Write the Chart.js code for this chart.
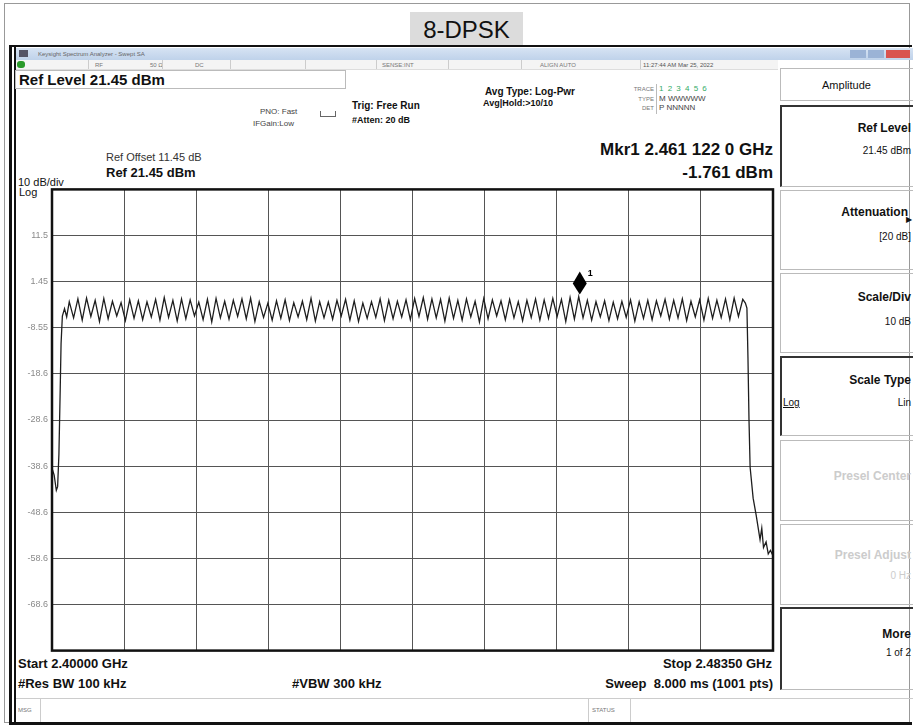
<!DOCTYPE html>
<html>
<head>
<meta charset="utf-8">
<script src="https://cdn.jsdelivr.net/npm/chart.js@4"></script>
<style>
  body { margin: 0; background: #fff; font-family: Arial, "Liberation Sans", sans-serif; }
  #page { position: relative; width: 913px; height: 726px; overflow: hidden; background: #fff; }
  .abs { position: absolute; }
  .t { position: absolute; white-space: nowrap; line-height: 1; color: #111; }
  .b { font-weight: bold; }
  .r { text-align: right; }
  .small { font-size: 6px; color: #777; }
  .key { position: absolute; left: 780px; width: 133px; box-sizing: border-box; border-top: 1px solid #bbb; border-bottom: 1px solid #bbb; border-left: 1px solid #bbb; }
  .key.sel { border-top: 2px solid #333; border-left: 2px solid #333; }
  #chartBox { position: absolute; left: 12px; top: 180px; }
</style>
</head>
<body>
<div id="page">
  <!-- outer frame and title -->
  <div class="abs" style="left:4px;top:3px;width:904px;height:718px;border:1px solid #999;"></div>
  <div class="abs" style="left:410px;top:12px;width:113px;height:34px;background:#dcdcdc;"></div>
  <div class="t" style="left:410px;top:18px;width:113px;text-align:center;font-size:24px;">8-DPSK</div>
  <div class="abs" style="left:9px;top:45px;width:903px;height:2px;background:#111;"></div>
  <div class="abs" style="left:9px;top:45px;width:3px;height:680px;background:#111;"></div>
  <div class="abs" style="left:14px;top:47px;width:2px;height:678px;background:#111;"></div>
  <div class="abs" style="left:9px;top:722px;width:903px;height:3px;background:#111;"></div>

  <!-- window title bar -->
  <div class="abs" style="left:16px;top:48px;width:897px;height:12px;background:linear-gradient(#d6e3f3,#bfd2ea);"></div>
  <div class="abs" style="left:19px;top:50px;width:9px;height:7px;background:#556;"></div>
  <div class="t small" style="left:38px;top:51px;color:#666;">Keysight Spectrum Analyzer - Swept SA</div>
  <div class="abs" style="left:850px;top:50px;width:16px;height:8px;background:#9bb3d6;"></div>
  <div class="abs" style="left:868px;top:50px;width:16px;height:8px;background:#9bb3d6;"></div>
  <div class="abs" style="left:886px;top:50px;width:24px;height:8px;background:#d9534f;"></div>

  <!-- status row -->
  <div class="abs" style="left:16px;top:60px;width:762px;height:9px;background:#f4f4f4;border-bottom:1px solid #ddd;"></div>
  <div class="abs" style="left:17px;top:61px;width:8px;height:7px;background:#2a9a2a;border-radius:3px;"></div>
  <div class="t small" style="left:95px;top:62px;">RF</div>
  <div class="t small" style="left:150px;top:62px;">50 Ω</div>
  <div class="t small" style="left:195px;top:62px;">DC</div>
  <div class="t small" style="left:382px;top:62px;">SENSE:INT</div>
  <div class="t small" style="left:540px;top:62px;">ALIGN AUTO</div>
  <div class="t small" style="left:643px;top:62px;color:#555;">11:27:44 AM Mar 25, 2022</div>
  <div class="abs" style="left:88px;top:60px;width:1px;height:9px;background:#ccc;"></div>
  <div class="abs" style="left:162px;top:60px;width:1px;height:9px;background:#ccc;"></div>
  <div class="abs" style="left:230px;top:60px;width:1px;height:9px;background:#ccc;"></div>
  <div class="abs" style="left:305px;top:60px;width:1px;height:9px;background:#ccc;"></div>
  <div class="abs" style="left:376px;top:60px;width:1px;height:9px;background:#ccc;"></div>
  <div class="abs" style="left:448px;top:60px;width:1px;height:9px;background:#ccc;"></div>
  <div class="abs" style="left:521px;top:60px;width:1px;height:9px;background:#ccc;"></div>
  <div class="abs" style="left:640px;top:60px;width:1px;height:9px;background:#ccc;"></div>

  <!-- header texts -->
  <div class="abs" style="left:15px;top:70px;width:329px;height:17px;border:1px solid #bbb;"></div>
  <div class="t b" style="left:19px;top:72px;font-size:15px;">Ref Level 21.45 dBm</div>
  <div class="t" style="left:260px;top:108px;font-size:8px;color:#444;">PNO: Fast</div>
  <div class="t" style="left:253px;top:120px;font-size:8px;color:#444;">IFGain:Low</div>
  <div class="abs" style="left:320px;top:111px;width:14px;height:5px;border:1px solid #666;border-top:none;"></div>
  <div class="t b" style="left:352px;top:101px;font-size:10px;">Trig: Free Run</div>
  <div class="t b" style="left:352px;top:116px;font-size:9px;">#Atten: 20 dB</div>
  <div class="t b" style="left:485px;top:87px;font-size:10px;">Avg Type: Log-Pwr</div>
  <div class="t b" style="left:483px;top:99px;font-size:9px;">Avg|Hold:&gt;10/10</div>
  <div class="t small r" style="left:600px;top:86px;width:54px;">TRACE</div>
  <div class="t small r" style="left:600px;top:96px;width:54px;">TYPE</div>
  <div class="t small r" style="left:600px;top:105px;width:54px;">DET</div>
  <div class="abs" style="left:656px;top:84px;width:1px;height:30px;background:#bbb;"></div>
  <div class="t" style="left:659px;top:85px;font-size:8px;color:#3a6;letter-spacing:1px;">1 2 3 4 5 6</div>
  <div class="t" style="left:659px;top:95px;font-size:8px;color:#444;">M WWWWW</div>
  <div class="t" style="left:659px;top:104px;font-size:8px;color:#444;">P NNNNN</div>

  <div class="t b r" style="left:400px;top:141px;width:373px;font-size:17px;">Mkr1 2.461 122 0 GHz</div>
  <div class="t b r" style="left:400px;top:164px;width:373px;font-size:17px;">-1.761 dBm</div>
  <div class="t" style="left:106px;top:152px;font-size:11px;color:#333;">Ref Offset 11.45 dB</div>
  <div class="t b" style="left:106px;top:166px;font-size:13px;">Ref 21.45 dBm</div>
  <div class="t" style="left:18px;top:177px;font-size:11px;">10 dB/div</div>
  <div class="t" style="left:19px;top:187px;font-size:11px;">Log</div>

  <!-- footer texts -->
  <div class="t b" style="left:18px;top:657px;font-size:13px;">Start 2.40000 GHz</div>
  <div class="t b" style="left:18px;top:677px;font-size:13px;">#Res BW 100 kHz</div>
  <div class="t b" style="left:292px;top:677px;font-size:13px;">#VBW 300 kHz</div>
  <div class="t b r" style="left:450px;top:657px;width:322px;font-size:13px;">Stop 2.48350 GHz</div>
  <div class="t b r" style="left:450px;top:677px;width:323px;font-size:13px;">Sweep&nbsp; 8.000 ms (1001 pts)</div>
  <div class="abs" style="left:16px;top:698px;width:897px;height:1px;background:#ccc;"></div>
  <div class="abs" style="left:40px;top:698px;width:1px;height:24px;background:#ccc;"></div>
  <div class="abs" style="left:588px;top:698px;width:1px;height:24px;background:#ccc;"></div>
  <div class="abs" style="left:630px;top:698px;width:1px;height:24px;background:#ccc;"></div>
  <div class="t small" style="left:18px;top:707px;">MSG</div>
  <div class="t small" style="left:592px;top:707px;">STATUS</div>

  <!-- softkey panel -->
  <div class="key" style="top:68px;height:33px;"></div>
  <div class="t" style="left:780px;top:80px;width:133px;text-align:center;font-size:11px;">Amplitude</div>
  <div class="key sel" style="top:105px;height:82px;"></div>
  <div class="t b r" style="left:780px;top:122px;width:131px;font-size:12px;">Ref Level</div>
  <div class="t r" style="left:780px;top:146px;width:131px;font-size:10px;">21.45 dBm</div>
  <div class="key" style="top:190px;height:80px;"></div>
  <div class="t b r" style="left:780px;top:206px;width:128px;font-size:12px;">Attenuation</div>
  <div class="t" style="left:906px;top:216px;font-size:8px;">&#9654;</div>
  <div class="t r" style="left:780px;top:232px;width:131px;font-size:10px;">[20 dB]</div>
  <div class="key" style="top:273px;height:80px;"></div>
  <div class="t b r" style="left:780px;top:291px;width:131px;font-size:12px;">Scale/Div</div>
  <div class="t r" style="left:780px;top:317px;width:131px;font-size:10px;">10 dB</div>
  <div class="key sel" style="top:356px;height:80px;"></div>
  <div class="t b r" style="left:780px;top:374px;width:131px;font-size:12px;">Scale Type</div>
  <div class="t" style="left:783px;top:398px;font-size:10px;text-decoration:underline;">Log</div>
  <div class="t r" style="left:780px;top:398px;width:131px;font-size:10px;">Lin</div>
  <div class="key" style="top:440px;height:81px;"></div>
  <div class="t b r" style="left:780px;top:470px;width:131px;font-size:12px;color:#ccc;">Presel Center</div>
  <div class="key" style="top:524px;height:81px;"></div>
  <div class="t b r" style="left:780px;top:549px;width:131px;font-size:12px;color:#ccc;">Presel Adjust</div>
  <div class="t r" style="left:780px;top:571px;width:131px;font-size:10px;color:#ccc;">0 Hz</div>
  <div class="key sel" style="top:607px;height:83px;"></div>
  <div class="t b r" style="left:780px;top:628px;width:131px;font-size:12px;">More</div>
  <div class="t r" style="left:780px;top:648px;width:131px;font-size:10px;">1 of 2</div>

  <div id="chartBox"><canvas id="trace" width="765" height="480"></canvas></div>
</div>

<script>
// frequency axis (MHz) and amplitude grid (dBm)
const spanMHz = [2400, 2483.5];
const xGridMHz = [2400, 2408.35, 2416.7, 2425.05, 2433.4, 2441.75, 2450.1, 2458.45, 2466.8, 2475.15, 2483.5];
const yGrid = [-78.55, -68.55, -58.55, -48.55, -38.55, -28.55, -18.55, -8.55, 1.45, 11.45, 21.45];
const yTickLabels = ['', '-68.6', '-58.6', '-48.6', '-38.6', '-28.6', '-18.6', '-8.55', '1.45', '11.5', ''];

// lower band edge
const edgeLoMHz = [2400.0, 2400.25, 2400.5, 2400.65, 2400.8, 2400.95, 2401.05, 2401.2, 2401.45, 2401.7];
const edgeLoDbm = [-39.0, -40.5, -43.8, -43.0, -36.0, -22.0, -12.0, -6.0, -4.4, -6.2];

// hopping channel peaks
const chanMHz = [
  2402, 2403, 2404, 2405, 2406, 2407, 2408, 2409, 2410, 2411,
  2412, 2413, 2414, 2415, 2416, 2417, 2418, 2419, 2420, 2421,
  2422, 2423, 2424, 2425, 2426, 2427, 2428, 2429, 2430, 2431,
  2432, 2433, 2434, 2435, 2436, 2437, 2438, 2439, 2440, 2441,
  2442, 2443, 2444, 2445, 2446, 2447, 2448, 2449, 2450, 2451,
  2452, 2453, 2454, 2455, 2456, 2457, 2458, 2459, 2460, 2461,
  2462, 2463, 2464, 2465, 2466, 2467, 2468, 2469, 2470, 2471,
  2472, 2473, 2474, 2475, 2476, 2477, 2478, 2479, 2480];
const peakDbm = [
  -2.9, -2.3, -2.1, -2.6, -2.2, -2.8, -3.1, -2.5, -2.7, -2.9,
  -2.4, -2.0, -2.6, -2.3, -2.5, -3.0, -2.4, -2.2, -2.8, -2.6,
  -2.3, -2.1, -2.9, -3.2, -2.7, -2.5, -3.1, -2.8, -2.2, -2.9,
  -3.0, -2.6, -2.4, -2.7, -3.2, -2.9, -2.3, -2.6, -2.8, -2.5,
  -2.2, -2.0, -2.3, -2.4, -2.1, -2.6, -2.3, -2.8, -2.2, -2.5,
  -2.7, -2.4, -2.9, -2.6, -2.3, -2.5, -2.2, -2.4, -2.0, -1.8,
  -2.6, -2.9, -2.7, -3.0, -2.8, -2.5, -2.9, -2.6, -2.7, -2.4,
  -2.6, -2.3, -2.8, -2.5, -2.2, -2.6, -2.3, -2.1, -2.4];

// dips between channels
const dipMHz = [
  2402.5, 2403.5, 2404.5, 2405.5, 2406.5, 2407.5, 2408.5, 2409.5, 2410.5, 2411.5,
  2412.5, 2413.5, 2414.5, 2415.5, 2416.5, 2417.5, 2418.5, 2419.5, 2420.5, 2421.5,
  2422.5, 2423.5, 2424.5, 2425.5, 2426.5, 2427.5, 2428.5, 2429.5, 2430.5, 2431.5,
  2432.5, 2433.5, 2434.5, 2435.5, 2436.5, 2437.5, 2438.5, 2439.5, 2440.5, 2441.5,
  2442.5, 2443.5, 2444.5, 2445.5, 2446.5, 2447.5, 2448.5, 2449.5, 2450.5, 2451.5,
  2452.5, 2453.5, 2454.5, 2455.5, 2456.5, 2457.5, 2458.5, 2459.5, 2460.5, 2461.5,
  2462.5, 2463.5, 2464.5, 2465.5, 2466.5, 2467.5, 2468.5, 2469.5, 2470.5, 2471.5,
  2472.5, 2473.5, 2474.5, 2475.5, 2476.5, 2477.5, 2478.5, 2479.5];
const dipDbm = [
  -6.4, -6.9, -6.1, -7.2, -6.6, -6.0, -7.0, -6.5, -6.8, -6.2,
  -6.9, -6.3, -7.1, -6.6, -6.0, -6.8, -7.3, -6.4, -6.7, -6.1,
  -6.6, -7.2, -6.3, -6.9, -6.5, -7.0, -6.2, -6.8, -7.1, -6.4,
  -6.7, -6.0, -6.9, -7.2, -6.5, -6.3, -7.0, -6.6, -6.2, -6.8,
  -6.1, -6.7, -6.4, -7.1, -6.5, -6.9, -6.2, -7.3, -6.6, -6.0,
  -6.8, -6.4, -7.0, -6.3, -6.9, -6.5, -6.1, -7.2, -6.7, -6.4,
  -6.9, -6.2, -7.0, -6.6, -6.3, -7.1, -6.5, -6.8, -6.0, -6.7,
  -6.4, -7.0, -6.2, -6.9, -6.5, -6.3, -6.8, -6.1];

// upper band edge
const edgeHiMHz = [2480.3, 2480.48, 2480.6, 2480.72, 2480.85, 2481.2, 2481.55, 2482.0, 2482.2, 2482.4, 2482.7, 2482.95, 2483.2, 2483.5];
const edgeHiDbm = [-3.2, -4.3, -15.0, -28.5, -38.8, -45.5, -49.2, -54.5, -52.0, -56.2, -55.0, -57.6, -56.8, -58.0];

// marker 1
const markerMHz = 2461.122;
const markerDbm = -1.761;

let trace = [];
for (let i = 0; i < edgeLoMHz.length; i++) trace.push({ x: edgeLoMHz[i], y: edgeLoDbm[i] });
for (let i = 0; i < chanMHz.length; i++) trace.push({ x: chanMHz[i], y: peakDbm[i] });
for (let i = 0; i < dipMHz.length; i++) trace.push({ x: dipMHz[i], y: dipDbm[i] });
for (let i = 0; i < edgeHiMHz.length; i++) trace.push({ x: edgeHiMHz[i], y: edgeHiDbm[i] });
trace.sort(function (a, b) { return a.x - b.x; });

const plotFrame = {
    id: 'plotFrame',
    afterDraw: function (chart) {
        const c = chart.ctx;
        const a = chart.chartArea;
        c.save();
        c.strokeStyle = '#111';
        c.lineWidth = 2.5;
        c.strokeRect(a.left, a.top, a.right - a.left, a.bottom - a.top);

        // marker diamond sits above the trace point
        const mx = chart.scales.x.getPixelForValue(markerMHz);
        const my = chart.scales.y.getPixelForValue(markerDbm);
        c.fillStyle = '#000';
        c.beginPath();
        c.moveTo(mx, my - 2);
        c.lineTo(mx + 7, my - 13);
        c.lineTo(mx, my - 25);
        c.lineTo(mx - 7, my - 13);
        c.closePath();
        c.fill();
        c.font = 'bold 9px Arial';
        c.fillText('1', mx + 8, my - 20);
        c.restore();
    }
};

const ctx = document.getElementById('trace');

new Chart(ctx, {
    type: 'line',
    data: {
        datasets: [
            {
                data: trace,
                borderColor: '#1e1e1e',
                borderWidth: 1.3,
                pointRadius: 0,
                tension: 0,
                fill: false
            }
        ]
    },
    options: {
        responsive: false,
        animation: false,
        events: [],
        layout: { padding: { top: 7, right: 4, bottom: 0, left: 0 } },
        scales: {
            x: {
                type: 'linear',
                min: spanMHz[0],
                max: spanMHz[1],
                afterBuildTicks: function (s) { s.ticks = xGridMHz.map(function (v) { return { value: v }; }); },
                afterFit: function (s) { s.height = 7; },
                ticks: { display: false },
                grid: { color: '#555', lineWidth: 1, drawTicks: false },
                border: { display: false }
            },
            y: {
                min: yGrid[0],
                max: yGrid[yGrid.length - 1],
                afterBuildTicks: function (s) { s.ticks = yGrid.map(function (v) { return { value: v }; }); },
                afterFit: function (s) { s.width = 40; },
                ticks: {
                    padding: 4,
                    color: '#8a8a8a',
                    font: { family: 'Arial', size: 9 },
                    callback: function (v, i) { return yTickLabels[i]; }
                },
                grid: { color: '#555', lineWidth: 1, drawTicks: false },
                border: { display: false }
            }
        },
        plugins: {
            legend: { display: false },
            tooltip: { enabled: false }
        }
    },
    plugins: [plotFrame]
});
</script>
</body>
</html>
